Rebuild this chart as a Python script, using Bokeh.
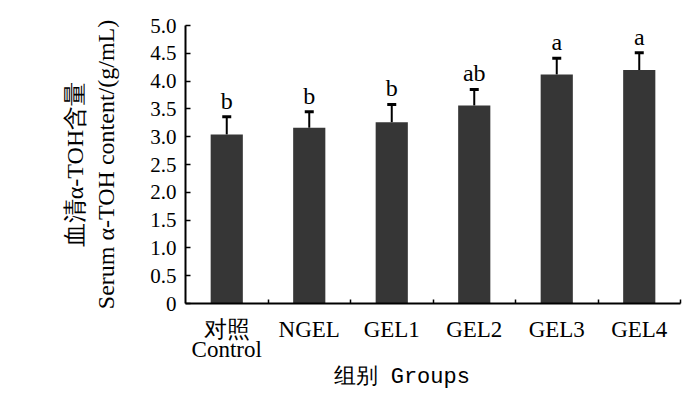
from bokeh.plotting import figure
from bokeh.models import ColumnDataSource, Range1d, FixedTicker, Whisker, TeeHead, Title, LinearAxis
from bokeh.core.properties import value
from bokeh.embed import file_html
from bokeh.resources import INLINE

groups = ["对照", "NGEL", "GEL1", "GEL2", "GEL3", "GEL4"]
groups_en = ["Control", "", "", "", "", ""]
means = [3.04, 3.16, 3.26, 3.56, 4.12, 4.20]
errors = [0.32, 0.29, 0.32, 0.29, 0.29, 0.31]
letters = ["b", "b", "b", "ab", "a", "a"]
y_ticks = [0, 0.5, 1.0, 1.5, 2.0, 2.5, 3.0, 3.5, 4.0, 4.5, 5.0]
y_tick_labels = ["0", "0.5", "1.0", "1.5", "2.0", "2.5", "3.0", "3.5", "4.0", "4.5", "5.0"]

SERIF = "Liberation Serif"

n = len(groups)
centers = [i + 0.5 for i in range(n)]
src = ColumnDataSource(dict(
    x=centers,
    top=means,
    upper=[m + e for m, e in zip(means, errors)],
    letters=letters,
))

p = figure(width=700, height=393, output_backend="svg", toolbar_location=None,
           x_range=Range1d(0, n), y_range=Range1d(0, 5.0),
           min_border_left=185, min_border_right=20, min_border_top=25, min_border_bottom=90)
p.outline_line_color = None
p.xgrid.visible = False
p.ygrid.visible = False
p.background_fill_color = "white"

p.vbar(x="x", top="top", width=0.39, bottom=0, source=src, fill_color="#363636", line_color=None)

w = Whisker(base="x", lower="top", upper="upper", source=src, line_color="black", line_width=2,
            lower_head=None, upper_head=TeeHead(size=9, line_width=3, line_color="black"))
p.add_layout(w)

p.text(x="x", y="upper", text="letters", source=src, text_font=value("Liberation Serif"),
       text_font_size="24px", text_align="center", text_baseline="bottom", y_offset=-3, text_color="black")

# x axis
xa = p.xaxis[0]
xa.ticker = FixedTicker(ticks=centers, minor_ticks=[i + 1 for i in range(n)])
xa.major_label_overrides = {c: g for c, g in zip(centers, groups)}
xa.major_tick_in = 0
xa.major_tick_out = 0
xa.minor_tick_in = 4
xa.minor_tick_out = 0
xa.minor_tick_line_width = 1.5
xa.axis_line_width = 2
xa.major_label_text_font = SERIF
xa.major_label_text_font_size = "23px"
xa.major_label_text_color = "black"
xa.major_label_standoff = 13

# second line of the first category label
xa2 = LinearAxis(ticker=FixedTicker(ticks=centers[:1]),
                 major_label_overrides={c: g for c, g in zip(centers, groups_en) if g})
xa2.axis_line_color = None
xa2.major_tick_line_color = None
xa2.minor_tick_line_color = None
xa2.major_tick_in = 0
xa2.major_tick_out = 0
xa2.major_label_standoff = -8
xa2.major_label_text_font = SERIF
xa2.major_label_text_font_size = "23px"
xa2.major_label_text_color = "black"
p.add_layout(xa2, "below")

# x axis title (shifted left like the reference)
p.add_layout(Title(text="组别 Groups", align="left", offset=148, standoff=0, vertical_align="top",
                   text_font="Liberation Mono", text_font_size="22px", text_line_height=0.5,
                   text_font_style="normal", text_color="black"), "below")

# y axis
ya = p.yaxis[0]
ya.ticker = FixedTicker(ticks=y_ticks)
ya.major_label_overrides = {t: l for t, l in zip(y_ticks, y_tick_labels)}
ya.major_tick_in = 5
ya.major_tick_out = 0
ya.major_tick_line_width = 1.5
ya.minor_tick_line_color = None
ya.axis_line_width = 2
ya.major_label_text_font = SERIF
ya.major_label_text_font_size = "21px"
ya.major_label_text_color = "black"
ya.major_label_standoff = 9
ya.axis_label = "血清α-TOH含量\nSerum α-TOH content/(g/mL)"
ya.axis_label_text_font = SERIF
ya.axis_label_text_font_size = "24px"
ya.axis_label_text_font_style = "normal"
ya.axis_label_text_color = "black"
ya.axis_label_standoff = 28

open("out.html", "w").write(file_html(p, INLINE))
